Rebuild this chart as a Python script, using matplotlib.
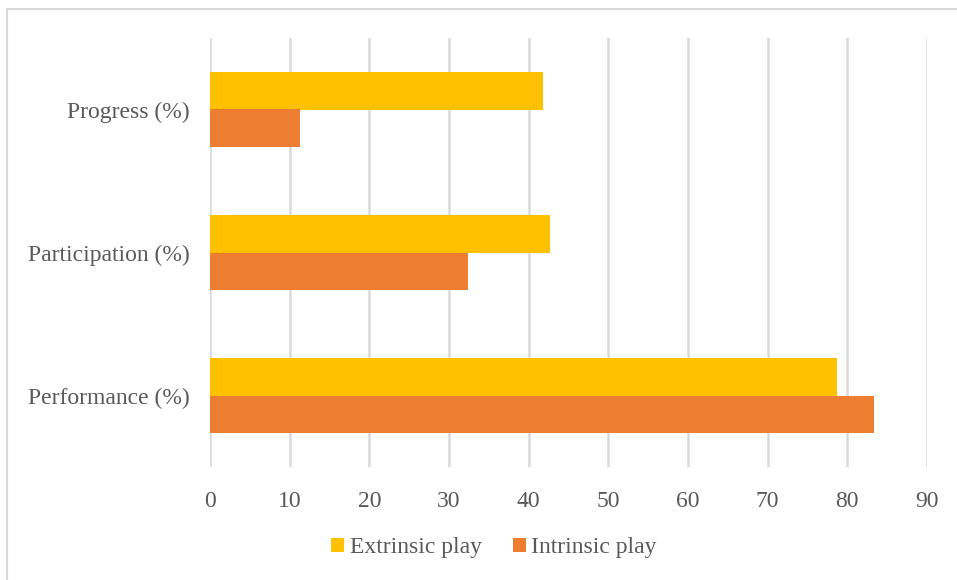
import matplotlib.pyplot as plt
import numpy as np

categories = ['Performance (%)', 'Participation (%)', 'Progress (%)']
extrinsic = [78.7, 42.7, 41.8]
intrinsic = [83.4, 32.4, 11.3]
ticks = [0, 10, 20, 30, 40, 50, 60, 70, 80, 90]

plt.rcParams['font.family'] = ['Liberation Serif', 'DejaVu Serif']
gray = '#595959'

fig = plt.figure(figsize=(9.57, 5.8), dpi=100)
ax = fig.add_axes([210/957, 1 - 467/580, 717/957, 429/580])

y = np.arange(len(categories))
h = 0.265
ax.barh(y + h/2, extrinsic, height=h, color='#ffc000', label='Extrinsic play', zorder=3)
ax.barh(y - h/2, intrinsic, height=h, color='#ed7d31', label='Intrinsic play', zorder=3)

ax.set_xlim(0, 90)
ax.set_ylim(-0.5, 2.5)
ax.set_xticks(ticks)
ax.set_yticks(y)
ax.set_yticklabels(categories)
ax.tick_params(axis='both', length=0, labelsize=17, colors=gray)
ax.tick_params(axis='x', pad=17.5)
ax.tick_params(axis='y', pad=14.5)
ax.grid(axis='x', color='#d9d9d9', linewidth=1.8, zorder=0)
for s in ax.spines.values():
    s.set_visible(False)

leg = fig.legend(loc='center', bbox_to_anchor=(494/957, 1 - 548/580), ncol=2,
                 frameon=False, fontsize=17, handlelength=0.55, handleheight=0.55,
                 handletextpad=0.25, columnspacing=1.3)
for t in leg.get_texts():
    t.set_color(gray)

# chart area border
fig.patches.append(plt.Rectangle((7/957, -0.05), 1.0, 1 - 8.5/580 + 0.05,
                                 transform=fig.transFigure, fill=False,
                                 edgecolor='#d9d9d9', linewidth=1.5))

fig.savefig('out.png', dpi=100)
